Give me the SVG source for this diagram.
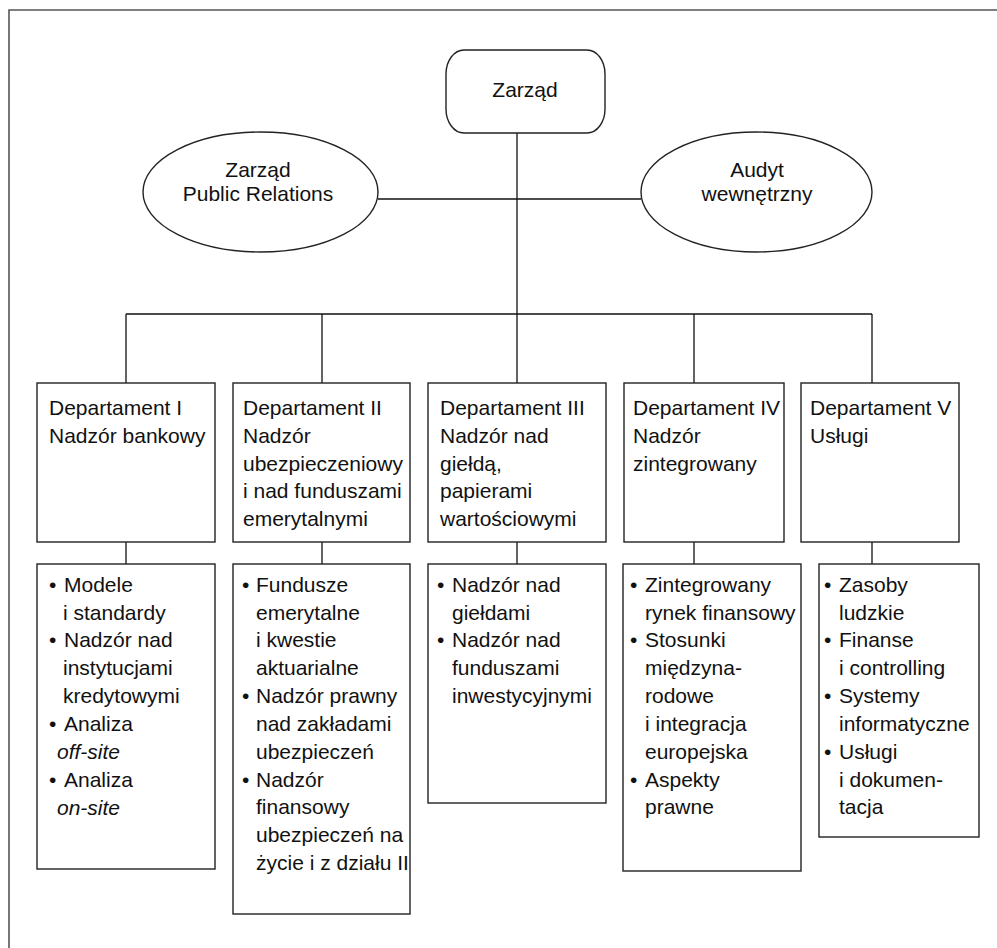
<svg xmlns="http://www.w3.org/2000/svg" width="997" height="948" viewBox="0 0 997 948">
<style>
text{font-family:"Liberation Sans",Arial,sans-serif;font-size:21px;fill:#111}
.c{text-anchor:middle}
.i{font-style:italic}
.box{fill:#fff;stroke:#222;stroke-width:1.4}
.ln{stroke:#111;stroke-width:1.3;fill:none}
.frame{stroke:#555;stroke-width:1.6;fill:none}
</style>
<rect width="997" height="948" fill="#fff"/>
<path class="frame" d="M9,948 V10 H997"/>
<g id="connectors">
<path class="ln" d="M517,133 V314"/>
<path class="ln" d="M378,199 H641"/>
<path class="ln" d="M126,314 H872"/>
<path class="ln" d="M126,314 V383 M322,314 V383 M517,314 V383 M694,314 V383 M872,314 V383"/>
<path class="ln" d="M126,542 V564 M322,542 V564 M517,542 V564 M694,542 V564 M872,542 V564"/>
</g>
<g id="zarzad">
<rect class="box" x="446" y="50" width="159" height="83" rx="18" ry="24"/>
<text class="c" x="525" y="97">Zarząd</text>
</g>
<g id="pr">
<ellipse class="box" cx="260.5" cy="192" rx="117.5" ry="60"/>
<text class="c" x="258" y="177">Zarząd</text>
<text class="c" x="258" y="201">Public Relations</text>
</g>
<g id="audyt">
<ellipse class="box" cx="756.5" cy="192" rx="115.5" ry="60"/>
<text class="c" x="757" y="177">Audyt</text>
<text class="c" x="757" y="201">wewnętrzny</text>
</g>
<g id="dep1">
<rect class="box" x="37" y="383" width="178" height="159"/>
<text x="49" y="415">Departament I</text>
<text x="49" y="443">Nadzór bankowy</text>
</g>
<g id="dep2">
<rect class="box" x="233" y="383" width="177" height="159"/>
<text x="243" y="415">Departament II</text>
<text x="243" y="443">Nadzór</text>
<text x="243" y="471">ubezpieczeniowy</text>
<text x="243" y="498">i nad funduszami</text>
<text x="243" y="526">emerytalnymi</text>
</g>
<g id="dep3">
<rect class="box" x="428" y="383" width="178" height="159"/>
<text x="440" y="415">Departament III</text>
<text x="440" y="443">Nadzór nad</text>
<text x="440" y="471">giełdą,</text>
<text x="440" y="498">papierami</text>
<text x="440" y="526">wartościowymi</text>
</g>
<g id="dep4">
<rect class="box" x="624" y="383" width="160" height="159"/>
<text x="633" y="415">Departament IV</text>
<text x="633" y="443">Nadzór</text>
<text x="633" y="471">zintegrowany</text>
</g>
<g id="dep5">
<rect class="box" x="801" y="383" width="158" height="159"/>
<text x="810" y="415">Departament V</text>
<text x="810" y="443">Usługi</text>
</g>
<g id="list1">
<rect class="box" x="37" y="564" width="178" height="305"/>
<text x="49" y="592">•</text><text x="64" y="592">Modele</text>
<text x="63" y="620">i standardy</text>
<text x="49" y="647">•</text><text x="64" y="647">Nadzór nad</text>
<text x="63" y="675">instytucjami</text>
<text x="63" y="703">kredytowymi</text>
<text x="49" y="731">•</text><text x="64" y="731">Analiza</text>
<text class="i" x="57" y="759">off-site</text>
<text x="49" y="787">•</text><text x="64" y="787">Analiza</text>
<text class="i" x="57" y="815">on-site</text>
</g>
<g id="list2">
<rect class="box" x="233" y="564" width="177" height="350"/>
<text x="242" y="592">•</text><text x="256" y="592">Fundusze</text>
<text x="256" y="620">emerytalne</text>
<text x="256" y="647">i kwestie</text>
<text x="256" y="675">aktuarialne</text>
<text x="242" y="703">•</text><text x="256" y="703">Nadzór prawny</text>
<text x="256" y="731">nad zakładami</text>
<text x="256" y="759">ubezpieczeń</text>
<text x="242" y="787">•</text><text x="256" y="787">Nadzór</text>
<text x="256" y="814">finansowy</text>
<text x="256" y="842">ubezpieczeń na</text>
<text x="256" y="870">życie i z działu II</text>
</g>
<g id="list3">
<rect class="box" x="428" y="564" width="178" height="239"/>
<text x="437" y="592">•</text><text x="452" y="592">Nadzór nad</text>
<text x="452" y="620">giełdami</text>
<text x="437" y="647">•</text><text x="452" y="647">Nadzór nad</text>
<text x="452" y="675">funduszami</text>
<text x="452" y="703">inwestycyjnymi</text>
</g>
<g id="list4">
<rect class="box" x="623" y="564" width="178" height="307"/>
<text x="630" y="592">•</text><text x="645" y="592">Zintegrowany</text>
<text x="645" y="620">rynek finansowy</text>
<text x="630" y="647">•</text><text x="645" y="647">Stosunki</text>
<text x="645" y="675">międzyna-</text>
<text x="645" y="703">rodowe</text>
<text x="645" y="731">i integracja</text>
<text x="645" y="759">europejska</text>
<text x="630" y="787">•</text><text x="645" y="787">Aspekty</text>
<text x="645" y="814">prawne</text>
</g>
<g id="list5">
<rect class="box" x="819" y="564" width="160" height="273"/>
<text x="824" y="592">•</text><text x="839" y="592">Zasoby</text>
<text x="839" y="620">ludzkie</text>
<text x="824" y="647">•</text><text x="839" y="647">Finanse</text>
<text x="839" y="675">i controlling</text>
<text x="824" y="703">•</text><text x="839" y="703">Systemy</text>
<text x="839" y="731">informatyczne</text>
<text x="824" y="759">•</text><text x="839" y="759">Usługi</text>
<text x="839" y="787">i dokumen-</text>
<text x="839" y="814">tacja</text>
</g>
</svg>
